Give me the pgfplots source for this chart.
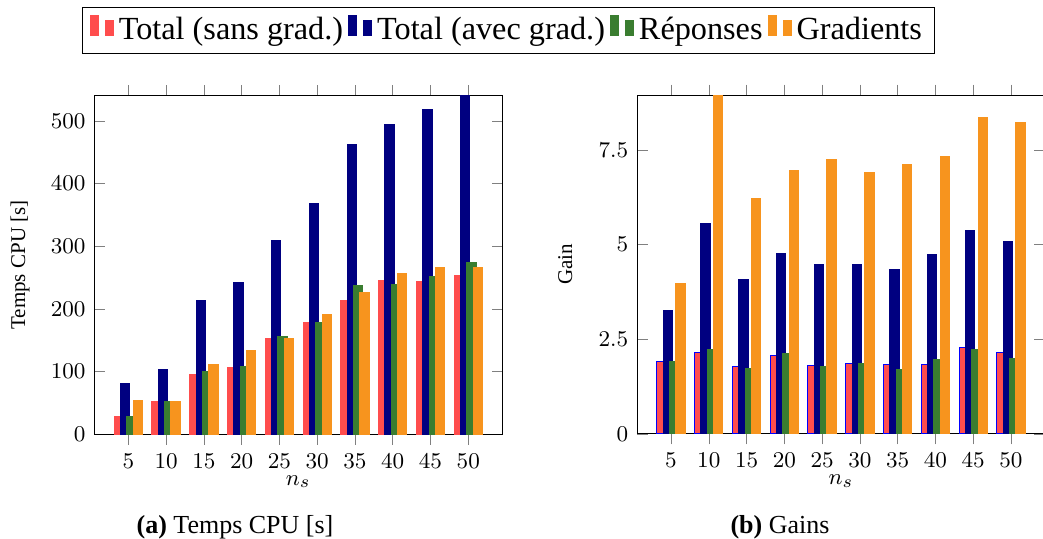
\documentclass[border=0pt]{standalone}
\usepackage{fontspec}
\setmainfont{Liberation Serif}
\usepackage{pgfplots}
\pgfplotsset{compat=1.18}
\definecolor{cRed}{RGB}{255,77,77}
\definecolor{cBlue}{RGB}{0,0,128}
\definecolor{cGreen}{RGB}{58,125,48}
\definecolor{cOrange}{RGB}{247,148,30}
\pgfplotsset{
  common/.style={
    ybar, scale only axis, width=163.2pt, height=135.44pt,
    bar width=3.73pt,
    xmin=0.5, xmax=54.5, ymin=0,
    xtick={5,10,...,50},
    xtick align=outside, ytick align=inside,
    tick label style={font=\fontsize{9.3}{11}\selectfont},
    xlabel={$n_s$},
    xlabel style={at={(axis description cs:0.5,-0.14)},anchor=center,font=\fontsize{9.3}{11}\selectfont},
  },
}
\begin{document}
\begin{tikzpicture}
\path[use as bounding box] (0,0) rectangle (417.2pt,-215.2pt);
\begin{axis}[common,
  at={(37.72pt,-173.72pt)}, anchor=south west,
  ymax=540.4, ytick={0,100,...,500},
  ylabel={Temps CPU [s]},
  ylabel style={at={(axis description cs:-0.182,0.5)},anchor=center,font=\fontsize{8.4}{10}\selectfont},
  legend columns=4,
  legend style={at={(axis description cs:1.015,1.1926)},anchor=center,
    font=\fontsize{12.9}{15}\selectfont, draw=black, line width=0.6pt},
]
\addplot[fill=cRed, draw=cRed, bar shift=-3.8pt] coordinates {
(5,28.2) (10,51.6) (15,95.7) (20,107.4) (25,153.2) (30,177.7) (35,213.8) (40,244.7) (45,243.1) (50,252.7)};
\addplot[fill=cBlue, draw=cBlue, bar shift=-1.27pt] coordinates {
(5,81.4) (10,102.7) (15,213.3) (20,241.5) (25,310.1) (30,369.1) (35,463.3) (40,494.1) (45,517.6) (50,540.4)};
\addplot[fill=cGreen, draw=cGreen, bar shift=1.27pt] coordinates {
(5,27.7) (10,51.6) (15,101) (20,109) (25,156.9) (30,177.7) (35,237.2) (40,238.3) (45,251.1) (50,274.5)};
\addplot[fill=cOrange, draw=cOrange, bar shift=3.8pt] coordinates {
(5,53.2) (10,51.6) (15,112.2) (20,133) (25,153.7) (30,191.5) (35,226.6) (40,255.9) (45,267) (50,267)};
\legend{Total (sans grad.),Total (avec grad.),Réponses,Gradients}
\end{axis}
\begin{axis}[common,
  at={(254.8pt,-173.5pt)}, anchor=south west,
  ymax=8.95, ytick={0,2.5,5,7.5},
  ylabel={Gain},
  ylabel style={at={(axis description cs:-0.176,0.5)},anchor=center,font=\fontsize{8.4}{10}\selectfont},
]
\addplot[fill=cRed, draw=blue, bar shift=-3.8pt] coordinates {
(5,1.92) (10,2.16) (15,1.77) (20,2.08) (25,1.80) (30,1.85) (35,1.84) (40,1.82) (45,2.29) (50,2.16)};
\addplot[fill=cBlue, draw=cBlue, bar shift=-1.27pt] coordinates {
(5,3.27) (10,5.57) (15,4.08) (20,4.77) (25,4.47) (30,4.47) (35,4.35) (40,4.74) (45,5.38) (50,5.08)};
\addplot[fill=cGreen, draw=cGreen, bar shift=1.27pt] coordinates {
(5,1.91) (10,2.22) (15,1.73) (20,2.11) (25,1.77) (30,1.85) (35,1.70) (40,1.97) (45,2.22) (50,2.00)};
\addplot[fill=cOrange, draw=cOrange, bar shift=3.8pt] coordinates {
(5,3.97) (10,8.95) (15,6.22) (20,6.95) (25,7.25) (30,6.91) (35,7.13) (40,7.33) (45,8.35) (50,8.24)};
\end{axis}
\node[font=\fontsize{10.4}{12}\selectfont] at (94pt,-210.7pt) {\textbf{(a)} Temps CPU [s]};
\node[font=\fontsize{10.4}{12}\selectfont] at (312pt,-210.7pt) {\textbf{(b)} Gains};
\end{tikzpicture}
\end{document}
